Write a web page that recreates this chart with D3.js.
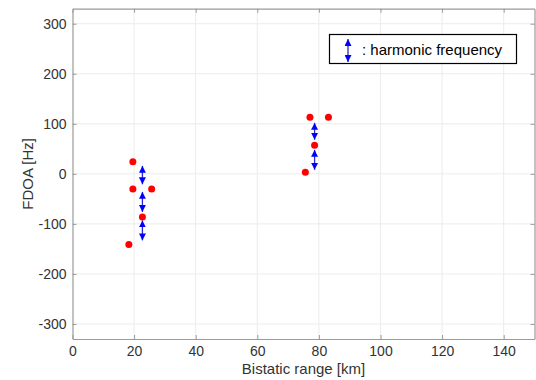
<!DOCTYPE html>
<html>
<head>
<meta charset="utf-8">
<script src="https://cdn.jsdelivr.net/npm/d3@7"></script>
<style>
  body { margin: 0; background: #fff; }
  svg { font-family: "Liberation Sans", Arial, sans-serif; }
</style>
</head>
<body>
<svg id="chart" width="536" height="380"></svg>
<script>
// dados
const pontos_x = [19.6, 19.6, 25.7, 22.7, 18.3, 77.1, 83.1, 78.6, 75.6];
const pontos_y = [24, -30.5, -30.5, -86, -141, 113, 113, 57, 3];

const setas_x  = [22.7, 22.7, 22.7, 78.6, 78.6];
const setas_y1 = [16, -36, -93, 102, 48];
const setas_y2 = [-21, -76, -133, 68, 8];

const ticks_x = [0, 20, 40, 60, 80, 100, 120, 140];
const ticks_y = [-300, -200, -100, 0, 100, 200, 300];

const legenda_txt = ": harmonic frequency";

const $svg = d3.select("#chart");

const x = d3.scaleLinear().domain([0, 150]).range([72.5, 534.5]);
const y = d3.scaleLinear().domain([-330, 330]).range([339, 8.7]);

const COR_EIXO = "#9a9a9a";
const COR_GRADE = "#ececec";

// grade
$svg.append("g")
  .selectAll("line.gx")
  .data(ticks_x.filter(d => d > 0))
  .enter().append("line")
  .attr("x1", d => x(d)).attr("x2", d => x(d))
  .attr("y1", y.range()[0]).attr("y2", y.range()[1])
  .attr("stroke", COR_GRADE);

$svg.append("g")
  .selectAll("line.gy")
  .data(ticks_y)
  .enter().append("line")
  .attr("x1", x.range()[0]).attr("x2", x.range()[1])
  .attr("y1", d => y(d)).attr("y2", d => y(d))
  .attr("stroke", COR_GRADE);

// eixos (hífen comum no lugar do sinal de menos, como no original)
const fmt = d => String(d);

const eixo_x = $svg.append("g")
  .attr("transform", `translate(0,${y.range()[0]})`)
  .call(d3.axisBottom(x).tickValues(ticks_x).tickFormat(fmt).tickSizeInner(-4).tickSizeOuter(0).tickPadding(7));
const eixo_y = $svg.append("g")
  .attr("transform", `translate(${x.range()[0]},0)`)
  .call(d3.axisLeft(y).tickValues(ticks_y).tickFormat(fmt).tickSizeInner(-4).tickSizeOuter(0).tickPadding(6));
const eixo_topo = $svg.append("g")
  .attr("transform", `translate(0,${y.range()[1]})`)
  .call(d3.axisTop(x).tickValues(ticks_x).tickSizeInner(-4).tickSizeOuter(0).tickFormat(""));
const eixo_dir = $svg.append("g")
  .attr("transform", `translate(${x.range()[1]},0)`)
  .call(d3.axisRight(y).tickValues(ticks_y).tickSizeInner(-4).tickSizeOuter(0).tickFormat(""));

[eixo_x, eixo_y, eixo_topo, eixo_dir].forEach(e => {
  e.select(".domain").attr("stroke", COR_EIXO).attr("stroke-width", 1.2);
  e.selectAll(".tick line").attr("stroke", COR_EIXO);
  e.selectAll(".tick text").attr("fill", "#333").style("font-size", "14px").style("font-family", "Liberation Sans, Arial, sans-serif");
});

// rótulos
$svg.append("text")
  .attr("x", (x.range()[0] + x.range()[1]) / 2)
  .attr("y", 374)
  .attr("text-anchor", "middle")
  .attr("fill", "#333")
  .style("font-size", "15px")
  .text("Bistatic range [km]");

$svg.append("text")
  .attr("transform", `translate(33,${y(0)}) rotate(-90)`)
  .attr("text-anchor", "middle")
  .attr("fill", "#333")
  .style("font-size", "15px")
  .text("FDOA [Hz]");

// setas
const defs = $svg.append("defs");
defs.append("marker")
  .attr("id", "ponta")
  .attr("viewBox", "0 0 10 10")
  .attr("refX", 10).attr("refY", 5)
  .attr("markerWidth", 7).attr("markerHeight", 7)
  .attr("markerUnits", "userSpaceOnUse")
  .attr("orient", "auto-start-reverse")
  .append("path")
  .attr("d", "M0,0 L10,5 L0,10 Z")
  .attr("fill", "#0000ff");

const desenha_seta = function(g, x1, y1, x2, y2) {
  g.append("line")
    .attr("x1", x1).attr("x2", x2)
    .attr("y1", y1).attr("y2", y2)
    .attr("stroke", "#2a2ad0")
    .attr("stroke-width", 1.3)
    .attr("marker-start", "url(#ponta)")
    .attr("marker-end", "url(#ponta)");
};

const $setas = $svg.append("g");
setas_x.forEach((sx, i) => {
  desenha_seta($setas, x(sx), y(setas_y1[i]), x(sx), y(setas_y2[i]));
});

// pontos
$svg.append("g")
  .selectAll("circle")
  .data(pontos_x)
  .enter().append("circle")
  .attr("cx", d => x(d))
  .attr("cy", (d, i) => y(pontos_y[i]))
  .attr("r", 3.5)
  .attr("fill", "#ff0000");

// legenda
const $leg = $svg.append("g");
$leg.append("rect")
  .attr("x", 329.5).attr("y", 34.5)
  .attr("width", 187).attr("height", 29)
  .attr("fill", "#fff")
  .attr("stroke", "#000")
  .attr("stroke-width", 1.2);
desenha_seta($leg, 348, 39, 348, 62);
$leg.append("text")
  .attr("x", 362).attr("y", 54.5)
  .attr("fill", "#000")
  .style("font-size", "15px")
  .text(legenda_txt);
</script>
</body>
</html>
